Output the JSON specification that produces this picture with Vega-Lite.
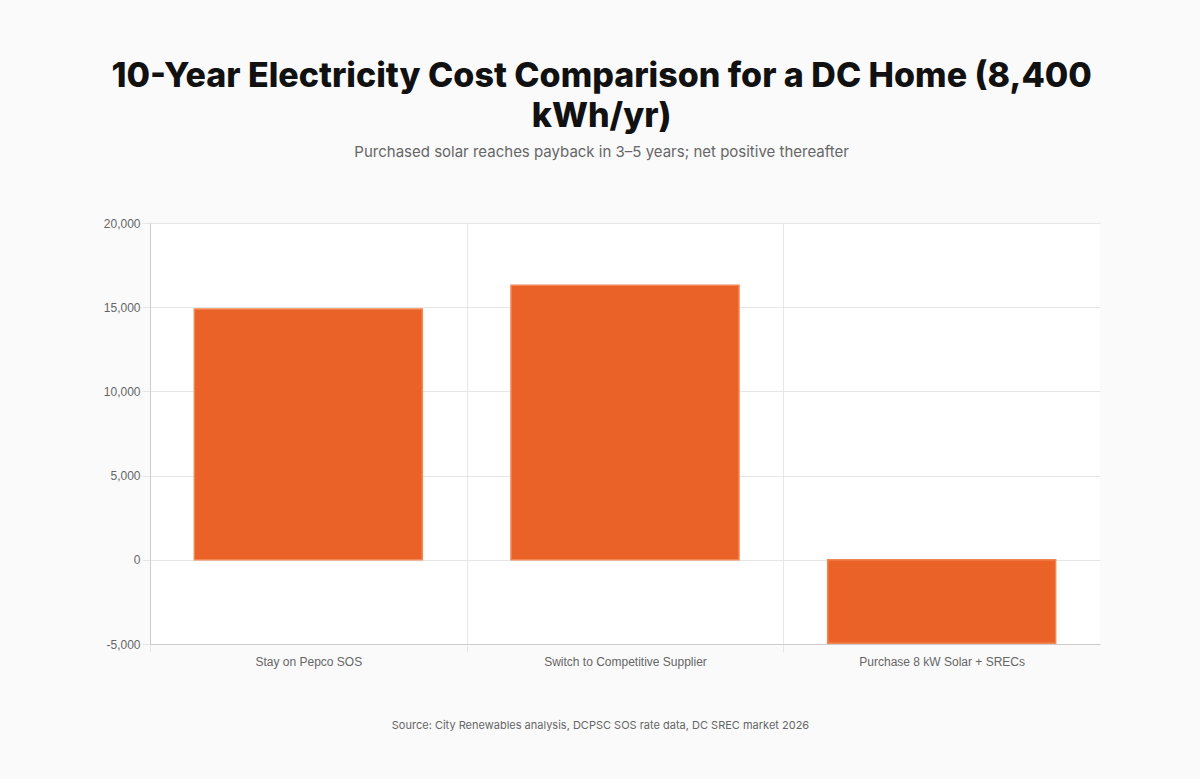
{
  "$schema": "https://vega.github.io/schema/vega-lite/v6.json",
  "width": 950,
  "height": 421,
  "autosize": {"type": "none"},
  "padding": {"left": 150, "top": 223, "right": 100, "bottom": 135},
  "background": "#fafafa",
  "view": {"fill": "#ffffff", "stroke": null},
  "title": {
    "text": ["10-Year Electricity Cost Comparison for a DC Home (8,400", "kWh/yr)"],
    "subtitle": "Purchased solar reaches payback in 3–5 years; net positive thereafter",
    "anchor": "middle",
    "frame": "bounds",
    "font": "Inter",
    "fontSize": 34,
    "fontWeight": 800,
    "color": "#111111",
    "lineHeight": 40,
    "subtitleFont": "Inter",
    "subtitleFontSize": 15,
    "subtitleColor": "#666666",
    "subtitlePadding": 11,
    "offset": 57
  },
  "data": {
    "values": [
      {"option": "Stay on Pepco SOS", "cost": 14900},
      {"option": "Switch to Competitive Supplier", "cost": 16300},
      {"option": "Purchase 8 kW Solar + SRECs", "cost": -4950}
    ]
  },
  "mark": {
    "type": "bar",
    "width": {"band": 0.72},
    "fill": "#EA6227",
    "stroke": "#F38652",
    "strokeWidth": 1.5
  },
  "encoding": {
    "x": {
      "field": "option",
      "type": "nominal",
      "sort": null,
      "scale": {"paddingInner": 0, "paddingOuter": 0},
      "axis": {
        "title": "Source: City Renewables analysis, DCPSC SOS rate data, DC SREC market 2026",
        "titleFont": "Inter",
        "titleFontSize": 11,
        "titleFontWeight": 400,
        "titleColor": "#666666",
        "titlePadding": 52,
        "titleX": 450,
        "labelAngle": 0,
        "labelFont": "Liberation Sans",
        "labelFontSize": 12,
        "labelColor": "#666666",
        "labelPadding": 4,
        "tickBand": "extent",
        "grid": true,
        "gridColor": "#e6e6e6",
        "tickColor": "#e6e6e6",
        "gridOpacity": {"condition": {"test": "datum.value === 'Purchase 8 kW Solar + SRECs'", "value": 0}, "value": 1},
        "tickOpacity": {"condition": {"test": "datum.value === 'Purchase 8 kW Solar + SRECs'", "value": 0}, "value": 1},
        "tickSize": 8,
        "domainColor": "#cccccc"
      }
    },
    "y": {
      "field": "cost",
      "type": "quantitative",
      "scale": {"domain": [-5000, 20000], "nice": false, "zero": true},
      "axis": {
        "title": null,
        "values": [-5000, 0, 5000, 10000, 15000, 20000],
        "format": ",.0f",
        "labelExpr": "replace(datum.label, '−', '-')",
        "labelFont": "Liberation Sans",
        "labelFontSize": 12,
        "labelColor": "#666666",
        "labelPadding": 2,
        "tickSize": 8,
        "tickColor": "#e6e6e6",
        "gridColor": "#e6e6e6",
        "domainColor": "#cccccc"
      }
    }
  }
}
